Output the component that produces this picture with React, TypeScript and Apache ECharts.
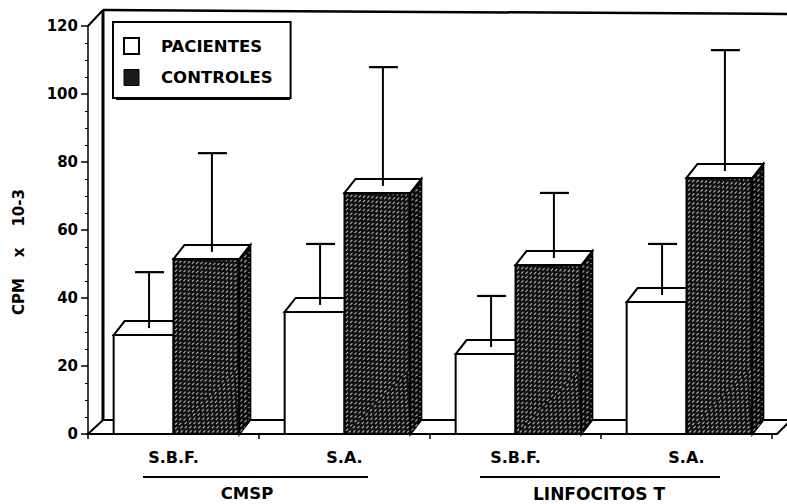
import React, { useEffect, useRef } from 'react';
import * as echarts from 'echarts';

const categories = ['S.B.F.', 'S.A.', 'S.B.F.', 'S.A.'];
const pacientesMean = [29.1, 35.9, 23.5, 38.8];
const pacientesSD = [18.5, 20.0, 17.1, 17.1];
const controlesMean = [51.5, 70.9, 49.7, 75.3];
const controlesSD = [31.1, 37.0, 21.2, 37.6];
const seriesNames = ['PACIENTES', 'CONTROLES'];
const groupLabels = ['CMSP', 'LINFOCITOS T'];
const yAxisTitle = 'CPM\u00a0\u00a0\u00a0\u00a0x\u00a0\u00a0\u00a0\u00a010-3';
const yMin = 0;
const yMax = 120;
const yInterval = 20;

const DX = 11;
const DY = 14;

const hatchStyle = { stroke: '#b4b4b4', lineWidth: 1.1, lineDash: [3, 3] };

function hatchRect(xa: number, ya: number, xb: number, yb: number, sp: number, out: any[]) {
  for (let k = xa + ya + sp / 2; k < xb + yb; k += sp) {
    const xs = Math.max(xa, k - yb);
    const xe = Math.min(xb, k - ya);
    if (xe - xs < 1) continue;
    out.push({ type: 'line', shape: { x1: xs, y1: k - xs, x2: xe, y2: k - xe }, style: hatchStyle });
  }
}

function hatchSide(x1: number, top: number, base: number, sp: number, out: any[]) {
  const r = DY / DX;
  for (let k = x1 + top - DY + sp / 2; k < x1 + DX + base; k += sp) {
    const uLo = Math.max(0.8, (x1 + top - k) / (r - 1));
    const uHi = Math.min(DX - 0.8, (x1 + base - k) / (r - 1));
    if (uHi - uLo < 0.8) continue;
    out.push({
      type: 'line',
      shape: { x1: x1 + uLo, y1: k - x1 - uLo, x2: x1 + uHi, y2: k - x1 - uHi },
      style: hatchStyle,
    });
  }
}

function makeRender(kind: 'p' | 'c') {
  return (params: any, api: any) => {
    const i = api.value(0);
    const v = api.value(1);
    const sd = api.value(2);
    const base = api.coord([i, 0]);
    const top = api.coord([i, v]);
    const cap = api.coord([i, v + sd]);
    const catW = api.size([1, 0])[0];
    const c = base[0];
    const w = kind === 'p' ? catW * 0.35 : catW * 0.385;
    const x0 = kind === 'p' ? c - w : c;
    const x1 = x0 + w;
    const yT = top[1];
    const yB = base[1];
    const outline = { stroke: '#000', lineWidth: 2, lineJoin: 'miter' };
    const children: any[] = [];
    if (kind === 'c') {
      children.push({
        type: 'polygon',
        shape: { points: [[x1, yT], [x1 + DX, yT - DY], [x1 + DX, yB - DY], [x1, yB]] },
        style: { fill: '#0c0c0c', ...outline },
      });
      hatchSide(x1, yT, yB, 5, children);
      children.push({
        type: 'rect',
        shape: { x: x0, y: yT, width: w, height: yB - yT },
        style: { fill: '#121212', ...outline },
      });
      hatchRect(x0 + 1.5, yT + 1.5, x1 - 1.5, yB - 1.5, 4.5, children);
    } else {
      children.push({
        type: 'rect',
        shape: { x: x0, y: yT, width: w, height: yB - yT },
        style: { fill: '#fff', ...outline },
      });
    }
    children.push({
      type: 'polygon',
      shape: { points: [[x0, yT], [x0 + DX, yT - DY], [x1 + DX, yT - DY], [x1, yT]] },
      style: { fill: '#fff', ...outline },
    });
    const cx = (x0 + x1) / 2 + DX / 2;
    children.push({
      type: 'line',
      shape: { x1: cx, y1: yT - DY / 2, x2: cx, y2: cap[1] },
      style: { stroke: '#000', lineWidth: 2 },
    });
    children.push({
      type: 'line',
      shape: { x1: cx - 14, y1: cap[1], x2: cx + 15, y2: cap[1] },
      style: { stroke: '#000', lineWidth: 2.2 },
    });
    return { type: 'group', children };
  };
}

export default function App() {
  const ref = useRef<HTMLDivElement>(null);
  useEffect(() => {
    if (!ref.current) return;
    const chart = echarts.init(ref.current, undefined, { renderer: 'svg' });
    const gridLeft = 88;
    const gridTop = 26;
    const gridBottomY = 434;
    const boldFont = { fontFamily: 'DejaVu Sans', fontWeight: 'bold' };
    const option: any = {
      animation: false,
      backgroundColor: '#fff',
      grid: { left: gridLeft, right: 15, top: gridTop, bottom: 504 - gridBottomY },
      legend: {
        orient: 'vertical',
        left: 113,
        top: 22,
        padding: [15, 18, 12, 10],
        itemGap: 14,
        itemWidth: 15,
        itemHeight: 16,
        icon: 'rect',
        selectedMode: false,
        borderColor: '#000',
        borderWidth: 2,
        backgroundColor: '#fff',
        z: 10,
        textStyle: {
          ...boldFont,
          fontSize: 16.5,
          color: '#000',
          padding: [0, 0, 0, 17],
        },
        data: [
          { name: seriesNames[0], itemStyle: { color: '#fff', borderColor: '#000', borderWidth: 2 } },
          { name: seriesNames[1], itemStyle: { color: '#1a1a1a', borderColor: '#000', borderWidth: 1 } },
        ],
      },
      xAxis: {
        type: 'category',
        data: categories,
        axisLine: { show: true, lineStyle: { color: '#000', width: 2 } },
        axisTick: { show: true, length: 5, lineStyle: { color: '#000', width: 1.5 } },
        axisLabel: { color: '#000', ...boldFont, fontSize: 16, margin: 15 },
        splitLine: { show: false },
      },
      yAxis: {
        type: 'value',
        min: yMin,
        max: yMax,
        interval: yInterval,
        name: yAxisTitle,
        nameLocation: 'middle',
        nameRotate: 90,
        nameGap: 62,
        nameTextStyle: { ...boldFont, fontSize: 15, color: '#000', padding: [0, 44, 0, 0] },
        axisLine: { show: true, lineStyle: { color: '#000', width: 1.5 } },
        axisTick: { show: true, length: 7, lineStyle: { color: '#000', width: 1.5 } },
        minorTick: { show: true, splitNumber: 4, length: 3, lineStyle: { color: '#000', width: 1 } },
        axisLabel: { color: '#000', ...boldFont, fontSize: 15, margin: 10 },
        splitLine: { show: false },
      },
      graphic: [
        {
          type: 'polygon',
          z: 0,
          shape: { points: [[gridLeft, gridBottomY], [gridLeft + 15, gridBottomY - 14], [791, gridBottomY - 14], [777, gridBottomY]] },
          style: { fill: '#fff', stroke: '#000', lineWidth: 2 },
        },
        {
          type: 'line', z: 1,
          shape: { x1: gridLeft + 15, y1: 10, x2: gridLeft + 15, y2: gridBottomY - 14 },
          style: { stroke: '#000', lineWidth: 3 },
        },
        {
          type: 'line', z: 1,
          shape: { x1: gridLeft + 15, y1: 10, x2: 787, y2: 14 },
          style: { stroke: '#000', lineWidth: 2.5 },
        },
        {
          type: 'line', z: 1,
          shape: { x1: gridLeft, y1: gridTop, x2: gridLeft + 15, y2: 10 },
          style: { stroke: '#000', lineWidth: 2 },
        },
        {
          type: 'rect', z: 5,
          shape: { x: 116, y: 25, width: 174, height: 75 },
          style: { fill: '#000' },
        },
        {
          type: 'line', z: 1,
          shape: { x1: 143, y1: 477, x2: 368, y2: 477 },
          style: { stroke: '#000', lineWidth: 2 },
        },
        {
          type: 'line', z: 1,
          shape: { x1: 480, y1: 477, x2: 720, y2: 477 },
          style: { stroke: '#000', lineWidth: 2 },
        },
        {
          type: 'text', z: 1, x: 247, y: 493,
          style: {
            text: groupLabels[0], fill: '#000', ...boldFont, fontSize: 16.5,
            textAlign: 'center', textVerticalAlign: 'middle',
          },
        },
        {
          type: 'text', z: 1, x: 599, y: 494,
          style: {
            text: groupLabels[1], fill: '#000', ...boldFont, fontSize: 17,
            textAlign: 'center', textVerticalAlign: 'middle',
          },
        },
      ],
      series: [
        {
          type: 'custom',
          name: seriesNames[0],
          z: 2,
          clip: false,
          itemStyle: { color: '#fff', borderColor: '#000' },
          encode: { x: 0, y: 1 },
          data: pacientesMean.map((m, i) => [i, m, pacientesSD[i]]),
          renderItem: makeRender('p'),
        },
        {
          type: 'custom',
          name: seriesNames[1],
          z: 3,
          clip: false,
          itemStyle: { color: '#1a1a1a', borderColor: '#000' },
          encode: { x: 0, y: 1 },
          data: controlesMean.map((m, i) => [i, m, controlesSD[i]]),
          renderItem: makeRender('c'),
        },
      ],
    };
    chart.setOption(option);
    return () => chart.dispose();
  }, []);
  return (
    <div
      ref={ref}
      style={{ position: 'fixed', left: 0, top: 0, width: 787, height: 504, background: '#fff' }}
    />
  );
}
